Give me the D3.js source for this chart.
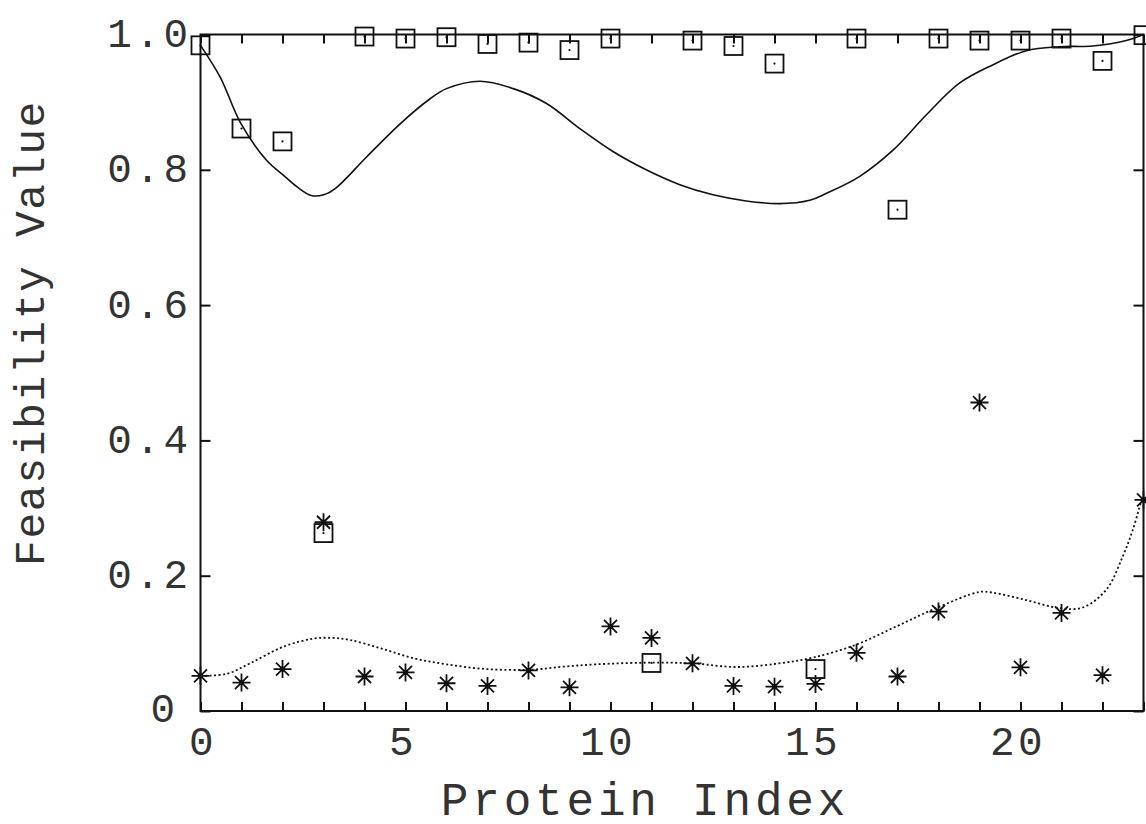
<!DOCTYPE html>
<html>
<head>
<meta charset="utf-8">
<script src="https://cdn.jsdelivr.net/npm/d3@7"></script>
<style>
  body { margin: 0; background: #fff; }
  svg { display: block; }
  text { font-family: "Liberation Mono", "Courier New", monospace; fill: #333; }
</style>
</head>
<body>
<script>
// protein indices and the two measured series
let proteins = [0,1,2,3,4,5,6,7,8,9,10,11,12,13,14,15,16,17,18,19,20,21,22,23]
let squareVals = [0.984,0.861,0.842,0.263,0.997,0.994,0.996,0.986,0.988,0.977,0.994,0.071,
                  0.991,0.983,0.957,0.062,0.994,0.741,0.994,0.991,0.991,0.994,0.961,0.999]
let starVals = [0.052,0.042,0.062,0.279,0.051,0.057,0.041,0.037,0.060,0.035,0.125,0.108,
                0.0705,0.037,0.036,0.040,0.086,0.051,0.147,0.456,0.0646,0.145,0.053,0.312]

// fitted curves as [index, value]
let upperFit = [[0,0.984],[0.48,0.937],[0.98,0.869],[1.61,0.814],[2.02,0.792],[2.35,0.775],[2.7,0.762],
    [3.0,0.763],[3.3,0.773],[4.05,0.819],[4.87,0.868],[5.6,0.905],[6.0,0.920],
    [6.82,0.931],[7.63,0.920],[8.44,0.898],[9.25,0.861],[10.06,0.827],[10.87,0.800],[11.69,0.778],
    [12.5,0.763],[13.31,0.754],[14.12,0.750],[14.86,0.755],[15.26,0.765],[16.07,0.790],[16.89,0.829],
    [17.7,0.881],[18.51,0.928],[19.32,0.955],[20.14,0.976],[20.95,0.982],[21.76,0.983],[22.58,0.991],[23,1.0]]
let lowerFit = [[0,0.052],[0.64,0.055],[1.21,0.0705],[2.02,0.095],[2.75,0.107],[3.24,0.108],[3.65,0.105],
    [4.38,0.093],[5.2,0.078],[6.0,0.069],[6.98,0.062],[8.03,0.061],[8.84,0.0655],[9.66,0.069],
    [10.87,0.0714],[12.0,0.0705],[13.07,0.065],[14.12,0.0705],[14.94,0.079],[15.99,0.098],[16.97,0.125],
    [17.94,0.152],[19.0,0.176],[19.32,0.175],[20.14,0.164],[20.95,0.152],[21.52,0.153],[22.09,0.179],
    [22.49,0.228],[22.74,0.268],[22.95,0.312]]

let xLabels = [0,5,10,15,20]
let yTicks = [0,0.2,0.4,0.6,0.8,1.0]

let w = 1146, h = 824
let padL = 200.5, padR = 1143.5, padT = 34.5, padB = 711

let svg = d3.select("body").append("svg")
    .attr("width", w)
    .attr("height", h)

let x = d3.scaleLinear().domain([0, 23]).range([padL, padR])
let y = d3.scaleLinear().domain([0, 1]).range([padB, padT])

// axes, ticks pointing inward on all four sides
let xAxis = d3.axisBottom(x).tickValues(proteins).tickSize(-9).tickSizeOuter(0)
    .tickFormat(d => xLabels.includes(d) ? d : "")
let gx = svg.append("g")
    .attr("transform", "translate(0," + padB + ")")
    .call(xAxis)
gx.selectAll("text")
    .attr("y", 44)
    .attr("dy", null)
    .attr("dx", d => d === 0 ? 2 : -3)
    .style("font-size", "41px")
    .style("letter-spacing", "3.5px")

let yAxis = d3.axisLeft(y).tickValues(yTicks).tickSize(-10).tickSizeOuter(0)
    .tickFormat(d => d === 0 ? "0" : d3.format(".1f")(d))
let gy = svg.append("g")
    .attr("transform", "translate(" + padL + ",0)")
    .call(yAxis)
gy.selectAll("text")
    .attr("x", d => d === 0 ? -22 : -9)
    .attr("y", d => d === 0 ? 10 : 12)
    .attr("dy", null)
    .style("font-size", "41px")
    .style("letter-spacing", "3.5px")

svg.append("g")
    .attr("transform", "translate(0," + padT + ")")
    .call(d3.axisTop(x).tickValues(proteins).tickSize(-9).tickSizeOuter(0).tickFormat(""))
svg.append("g")
    .attr("transform", "translate(" + padR + ",0)")
    .call(d3.axisRight(y).tickValues(yTicks).tickSize(-10).tickSizeOuter(0).tickFormat(""))

svg.selectAll(".domain").remove()
svg.selectAll(".tick line").attr("stroke", "#111").attr("stroke-width", 2)

// frame
svg.append("rect")
    .attr("x", padL)
    .attr("y", padT)
    .attr("width", padR - padL)
    .attr("height", padB - padT)
    .attr("fill", "none")
    .attr("stroke", "#111")
    .attr("stroke-width", 2)

// fitted curves
let line = d3.line()
    .x(d => x(d[0]))
    .y(d => y(d[1]))
    .curve(d3.curveCatmullRom)
svg.append("path")
    .attr("d", line(upperFit))
    .attr("fill", "none")
    .attr("stroke", "#111")
    .attr("stroke-width", 1.6)
svg.append("path")
    .attr("d", line(lowerFit))
    .attr("fill", "none")
    .attr("stroke", "#111")
    .attr("stroke-width", 1.8)
    .attr("stroke-dasharray", "2,2.5")

// square markers with a centre dot
let sq = svg.selectAll(".sq")
    .data(squareVals)
    .enter()
    .append("g")
    .attr("class", "sq")
    .attr("transform", (d, i) => "translate(" + x(proteins[i]) + "," + y(d) + ")")
sq.append("rect")
    .attr("x", -9).attr("y", -9)
    .attr("width", 18).attr("height", 18)
    .attr("fill", "none")
    .attr("stroke", "#111")
    .attr("stroke-width", 1.8)
sq.append("circle")
    .attr("r", 1.1)
    .attr("fill", "#111")

// asterisk markers
let star = "M-9,0L9,0M0,-9L0,9M-6.5,-6.5L6.5,6.5M-6.5,6.5L6.5,-6.5"
let st = svg.selectAll(".star")
    .data(starVals)
    .enter()
    .append("g")
    .attr("class", "star")
    .attr("transform", (d, i) => "translate(" + x(proteins[i]) + "," + y(d) + ")")
st.append("path")
    .attr("d", star)
    .attr("stroke", "#111")
    .attr("stroke-width", 1.8)
st.append("circle")
    .attr("r", 2.6)
    .attr("fill", "#111")

// axis titles
svg.append("text")
    .attr("x", 645)
    .attr("y", 815)
    .attr("text-anchor", "middle")
    .style("font-size", "46px")
    .style("letter-spacing", "3.8px")
    .text("Protein Index")
svg.append("text")
    .attr("transform", "translate(44,333) rotate(-90)")
    .attr("text-anchor", "middle")
    .style("font-size", "43px")
    .style("letter-spacing", "1.6px")
    .text("Feasibility Value")
</script>
</body>
</html>
